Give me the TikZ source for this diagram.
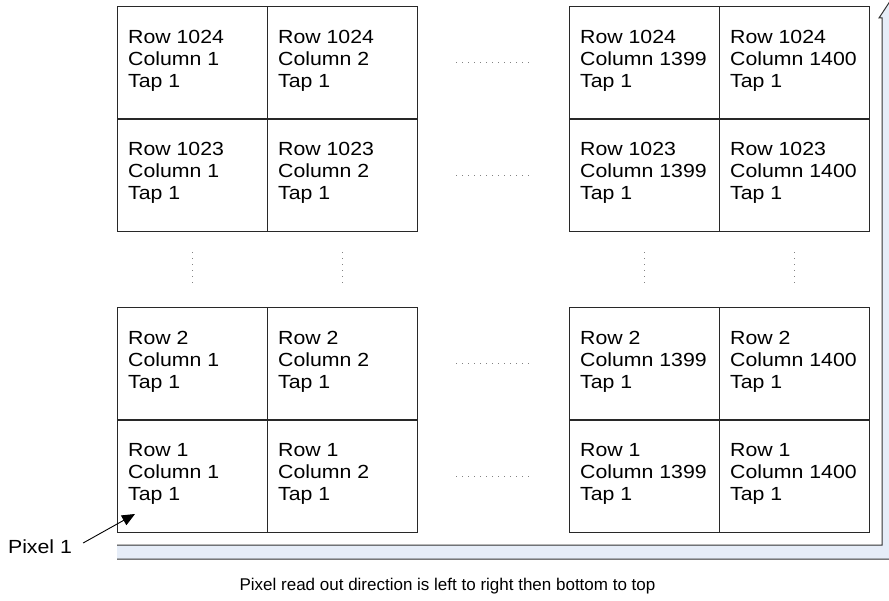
\documentclass[tikz,border=0pt]{standalone}
\usepackage{fontspec}
\setmainfont{Liberation Sans}
\newfontfamily\cellfont[FakeStretch=1.12]{Liberation Sans}
\usetikzlibrary{arrows.meta}
\definecolor{gridline}{RGB}{40,40,40}
\definecolor{bandfill}{RGB}{230,237,248}
\definecolor{bandline}{RGB}{50,50,50}
\definecolor{dotgray}{RGB}{130,130,130}
\begin{document}
\begin{tikzpicture}[x=1pt,y=-1pt,
  cell/.style={draw=gridline, line width=1.2pt, minimum width=150pt,
    minimum height=112.5pt, inner sep=0pt, anchor=north west},
  celltext/.style={anchor=north west, align=left, inner sep=0pt,
    font=\cellfont\fontsize{19}{22}\selectfont},
  label/.style={inner sep=0pt, font=\cellfont\fontsize{19}{22}\selectfont},
  caption/.style={inner sep=0pt, font=\fontsize{17}{20}\selectfont},
  dotrow/.style={dotgray, line width=0.8pt, dash pattern=on 0.8pt off 5.2pt},
]
\useasboundingbox (0,0) rectangle (889,601);
\clip (0,0) rectangle (889,601);

% read-out direction band (bent block arrow behind the array)
\fill[bandfill] (117,545) -- (882,545) -- (882,18) -- (879,18) -- (889.5,2)
  -- (900,18) -- (897,18) -- (897,559) -- (117,559) -- cycle;
\draw[bandline, line width=1pt] (117,559) -- (897,559) -- (897,18) -- (900,18)
  -- (889.5,2) -- (879,18) -- (882,18) -- (882,545) -- (117,545);

% pixel cells: four columns, four rows
\foreach \x/\cn/\col in {117/a/1, 267/b/2, 569/c/1399, 719/d/1400}
  \foreach \y/\row in {6/1024, 118.5/1023, 307/2, 419.5/1}
  {
    \node[cell] (cell-\row-\cn) at (\x,\y) {};
    \node[celltext] (txt-\row-\cn) at (\x+11,\y+24)
      {Row \row\\Column \col\\Tap 1};
  }

% elided columns
\foreach \row in {1024, 1023, 2, 1}
  \draw[dotrow] ([xshift=38pt]cell-\row-b.east) -- ([xshift=-38pt]cell-\row-c.west);

% elided rows
\foreach \cn in {a, b, c, d}
  \draw[dotrow] ([yshift=-20pt]cell-1023-\cn.south) -- ([yshift=20pt]cell-2-\cn.north);

% first pixel marker
\node[label] (pix) at (40,547) {Pixel 1};
\coordinate (pixtip) at (135,514);
\draw[line width=0.9pt, -{Triangle[length=13pt,width=11pt]}]
  ([shift={(11,-4)}]pix.east) -- (pixtip);

% caption
\node[caption] (caption) at (447.5,586)
  {Pixel read out direction is left to right then bottom to top};
\end{tikzpicture}
\end{document}
